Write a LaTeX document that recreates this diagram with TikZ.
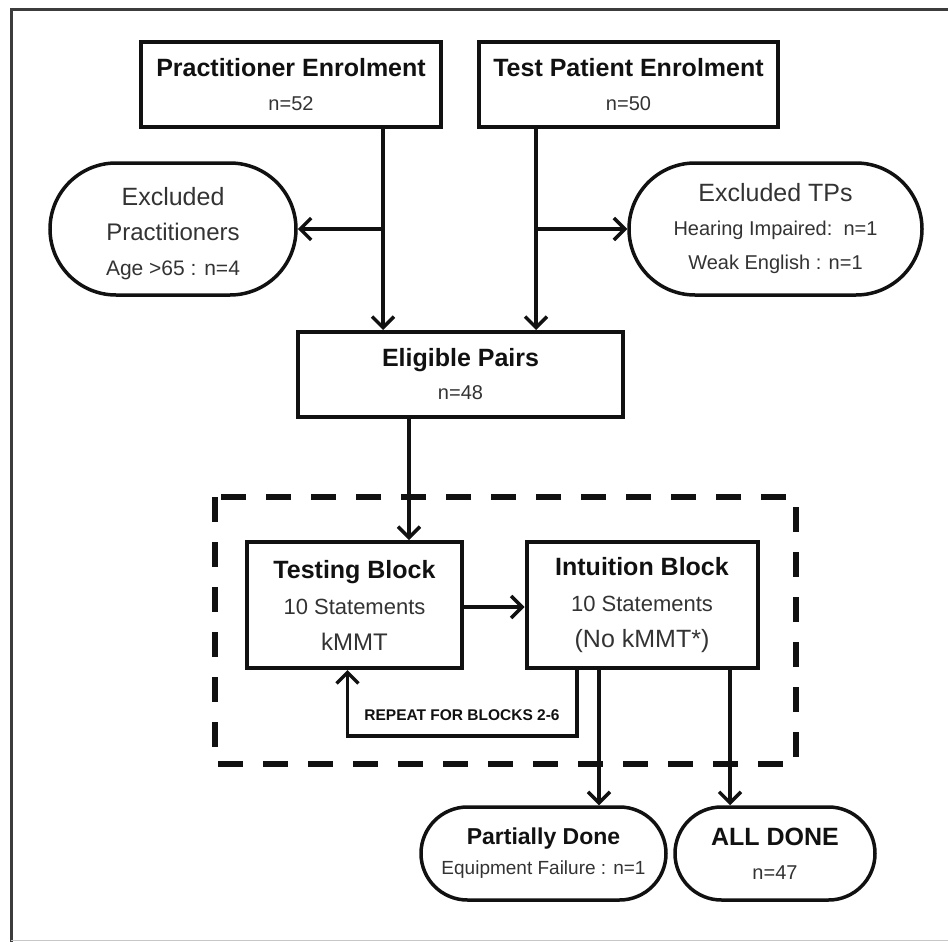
\documentclass[tikz,border=0pt]{standalone}
\usepackage{fontspec}
\setmainfont{Liberation Sans}
\usetikzlibrary{arrows.meta,shapes.misc}
\newcommand\fsz[2]{\fontsize{#1}{#2}\selectfont}
\definecolor{ink}{HTML}{111111}
\definecolor{soft}{HTML}{333333}
\definecolor{framegray}{HTML}{3C3C3C}

\begin{document}
\begin{tikzpicture}[x=1pt,y=-1pt,
  box/.style={draw=ink, line width=4pt, rectangle, inner sep=0pt, align=center, text=ink},
  pill/.style={draw=ink, line width=3.5pt, rounded rectangle, inner sep=0pt, align=center, text=ink},
  conn/.style={draw=ink, line width=3.5pt},
  arr/.style={conn, -{Straight Barb[length=11pt,width=22pt,line width=3.5pt]}},
]
\useasboundingbox (0,0) rectangle (948,942);

% page frame
\draw[framegray, line width=3pt] (11,942) -- (11,10) -- (948,10);
\draw[black!22, line width=1.5pt] (11,940.5) -- (948,940.5);

% enrolment boxes
\node[box, minimum width=300pt, minimum height=85pt, font=\fsz{25}{34}] (pe) at (291,84.5)
  {\textbf{Practitioner Enrolment}\\{\fsz{20}{34}\color{soft}n=52}};
\node[box, minimum width=299pt, minimum height=85pt, font=\fsz{25}{34}] (tp) at (628.5,84.5)
  {\textbf{Test Patient Enrolment}\\{\fsz{20}{34}\color{soft}n=50}};

% exclusions
\node[pill, minimum width=246pt, minimum height=132pt, font=\fsz{25}{35}] (xp) at (173,229)
  {{\color{soft}\rule{0pt}{28pt}Excluded}\\{\fsz{24}{35}\color{soft}Practitioners}\\{\fsz{21}{31}\color{soft}Age >65 : n=4}};
\node[pill, minimum width=293pt, minimum height=132pt, font=\fsz{25}{34}] (xt) at (775.5,229)
  {{\color{soft}Excluded TPs}\\{\fsz{20}{34}\color{soft}Hearing Impaired:~~n=1}\\{\fsz{20}{30}\color{soft}Weak English : n=1}};

% eligible pairs
\node[box, minimum width=325pt, minimum height=85pt, font=\fsz{25}{33}] (ep) at (460.5,374.5)
  {\textbf{Eligible Pairs}\\{\fsz{20}{33}\color{soft}n=48}};

% block loop
\node[box, minimum width=215pt, minimum height=126pt, font=\fsz{25}{36}] (tb) at (354.5,605)
  {\textbf{Testing Block}\\{\fsz{22}{37}\color{soft}10 Statements}\\{\fsz{24}{34}\color{soft}kMMT}};
\node[box, minimum width=231pt, minimum height=126pt, font=\fsz{25}{36}] (ib) at (642,605)
  {\textbf{Intuition Block}\\{\fsz{22}{37}\color{soft}10 Statements}\\{\fsz{25}{34}\color{soft}(No kMMT*)}};

% outcomes
\node[pill, minimum width=245pt, minimum height=93pt, font=\fsz{23}{30}] (pd) at (543.5,853.5)
  {\textbf{Partially Done}\\{\fsz{19}{30}\color{soft}Equipment Failure : n=1}};
\node[pill, minimum width=200pt, minimum height=93pt, font=\fsz{25}{34}] (ad) at (775,853.5)
  {\textbf{ALL DONE}\\{\fsz{20}{34}\color{soft}n=47}};

% connectors
\draw[arr] ([xshift=92pt]pe.south) -- ([xshift=92pt]pe.south |- ep.north);
\draw[arr] ([xshift=92pt]pe.south |- xp.east) -- (xp.east);
\draw[arr] ([xshift=-92.5pt]tp.south) -- ([xshift=-92.5pt]tp.south |- ep.north);
\draw[arr] ([xshift=-92.5pt]tp.south |- xt.west) -- (xt.west);
\draw[arr] ([xshift=-51.5pt]ep.south) -- ([xshift=-51.5pt]ep.south |- tb.north);
\draw[arr] ([yshift=-2pt]tb.east) -- ([yshift=-2pt]tb.east -| ib.west);
\draw[arr] ([xshift=-65pt]ib.south) -- ++(0,66) -| ([xshift=-7pt]tb.south);
\node[font=\fsz{15.5}{18}\bfseries, text=ink] (rep) at (462,715) {REPEAT FOR BLOCKS 2-6};
\draw[arr] ([xshift=-43pt]ib.south) -- ([xshift=-43pt]ib.south |- pd.north);
\draw[arr] ([xshift=88pt]ib.south) -- ([xshift=88pt]ib.south |- ad.north);

% repeated-block boundary
\draw[ink, line width=6pt, dash pattern=on 25pt off 20pt] (215,497) rectangle (796,764);
\end{tikzpicture}
\end{document}
